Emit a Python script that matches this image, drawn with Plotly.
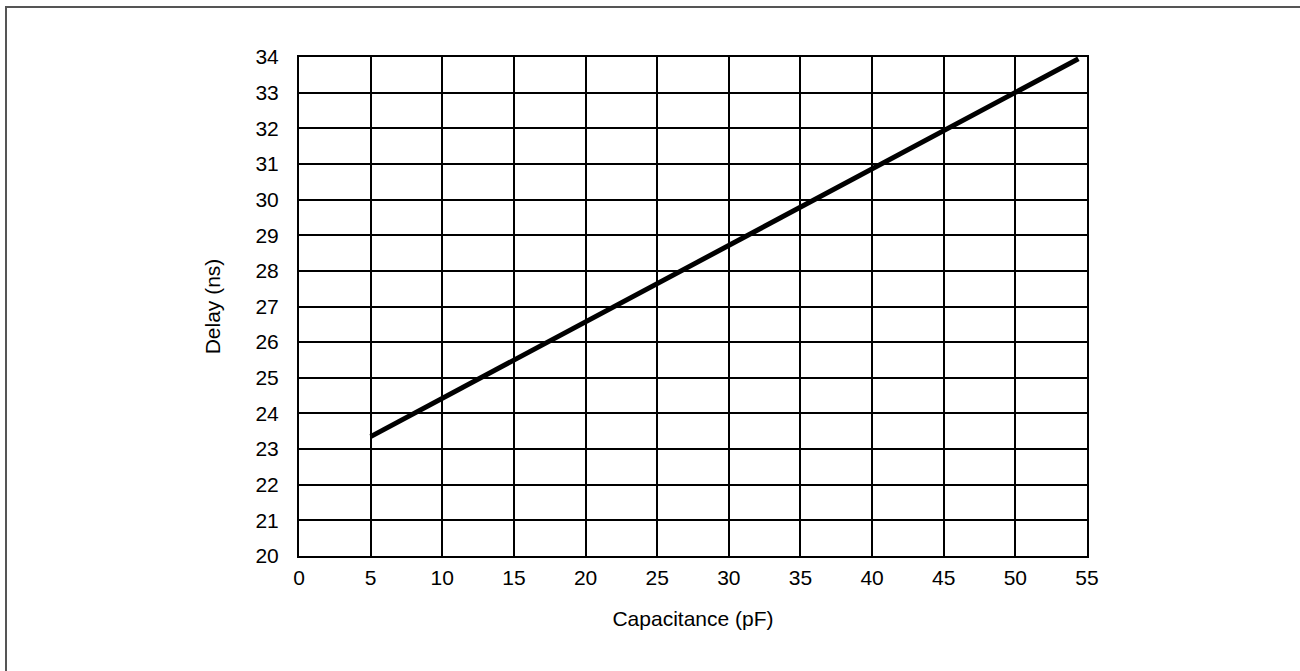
import plotly.graph_objects as go

capacitance_pf = [5, 54.4]
delay_ns = [23.35, 33.95]

x_ticks = [0, 5, 10, 15, 20, 25, 30, 35, 40, 45, 50, 55]
y_ticks = list(range(20, 35))

W, H = 1300, 671
L, R, T, B = 299, 1087, 57, 556

fig = go.Figure()
fig.add_trace(go.Scatter(
    x=capacitance_pf, y=delay_ns, mode="lines",
    line=dict(color="black", width=5), showlegend=False, hoverinfo="skip"))

font = dict(family="Liberation Sans, Arial, sans-serif", size=21, color="black")

fig.update_layout(
    width=W, height=H,
    margin=dict(l=L, r=W - R, t=T, b=H - B, pad=0),
    paper_bgcolor="white", plot_bgcolor="white",
    font=font,
    xaxis=dict(range=[0, 55], tickvals=x_ticks, ticktext=[str(v) for v in x_ticks],
               showgrid=True, gridcolor="black", gridwidth=2,
               showline=True, linecolor="black", linewidth=2, mirror=True,
               zeroline=False, ticks="", ticklabelstandoff=2,
               title=dict(text="Capacitance (pF)", standoff=23, font=font)),
    yaxis=dict(range=[20, 34], tickvals=y_ticks, ticktext=[str(v) for v in y_ticks],
               showgrid=True, gridcolor="black", gridwidth=2,
               showline=True, linecolor="black", linewidth=2, mirror=True,
               zeroline=False, ticks="", ticklabelstandoff=14,
               title=dict(text="Delay (ns)", standoff=29, font=font)),
)

pw, ph = R - L, B - T
def px_to_paper_x(p):
    return (p - L) / pw
def px_to_paper_y(p):
    return (B - p) / ph

fig.add_shape(type="rect", xref="paper", yref="paper",
              x0=px_to_paper_x(6), x1=px_to_paper_x(1320),
              y0=px_to_paper_y(700), y1=px_to_paper_y(7),
              line=dict(color="#555555", width=2), fillcolor="rgba(0,0,0,0)",
              layer="above")

fig.write_html("out.html", config={"displayModeBar": False},
               post_script="document.body.style.margin='0';document.body.style.overflow='hidden';")
